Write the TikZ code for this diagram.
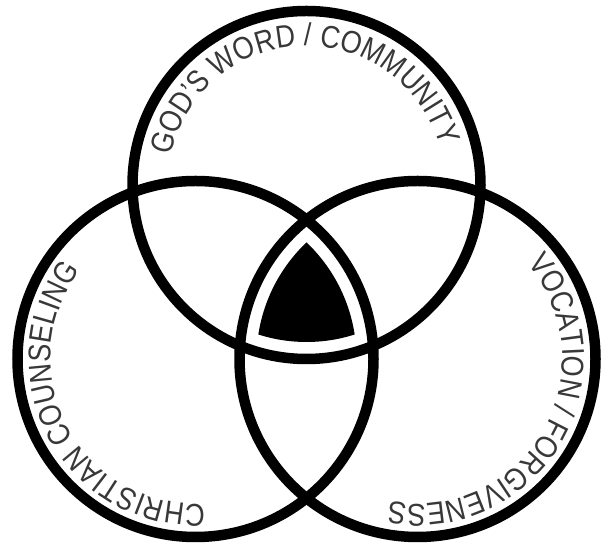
\documentclass[tikz,border=0pt]{standalone}
\usepackage{fontspec}
\setmainfont{Liberation Sans}
\newfontfamily\venfamily[FakeStretch=0.86]{Liberation Sans}
\usetikzlibrary{decorations.text,calc}
\definecolor{txtgray}{HTML}{383838}
\newcommand\venfont{\venfamily\fontsize{31.5}{35}\selectfont\color{txtgray}}
\begin{document}
\begin{tikzpicture}[x=1pt,y=1pt,
  ring/.style={line width=10.5pt, draw=black},
  arctext/.style={decorate, decoration={text along path, text align=center, text={|\venfont|#1}}}]
\useasboundingbox (0,0) rectangle (608,545);
\coordinate (T) at (306.5,360);
\coordinate (L) at (195.5,186);
\coordinate (R) at (417.5,186);
% central curved triangle
\begin{scope}
  \clip (T) circle[radius=157];
  \clip (L) circle[radius=161];
  \fill[black] (R) circle[radius=161];
\end{scope}
% circles
\draw[ring] (T) circle[radius=174];
\draw[ring] (L) circle[radius=178];
\draw[ring] (R) circle[radius=178];
% labels
\path[arctext={GOD’S WORD / COMMUNITY}] ($(T)+(182:139)$) arc[start angle=182, end angle=2, radius=139];
\path[arctext={CHRISTIAN COUNSELING}] ($(L)+(298:145)$) arc[start angle=298, end angle=118, radius=145];
\path[arctext={VOCATION / FORGIVENESS}] ($(R)+(60:145)$) arc[start angle=60, end angle=-120, radius=145];
\end{tikzpicture}
\end{document}
